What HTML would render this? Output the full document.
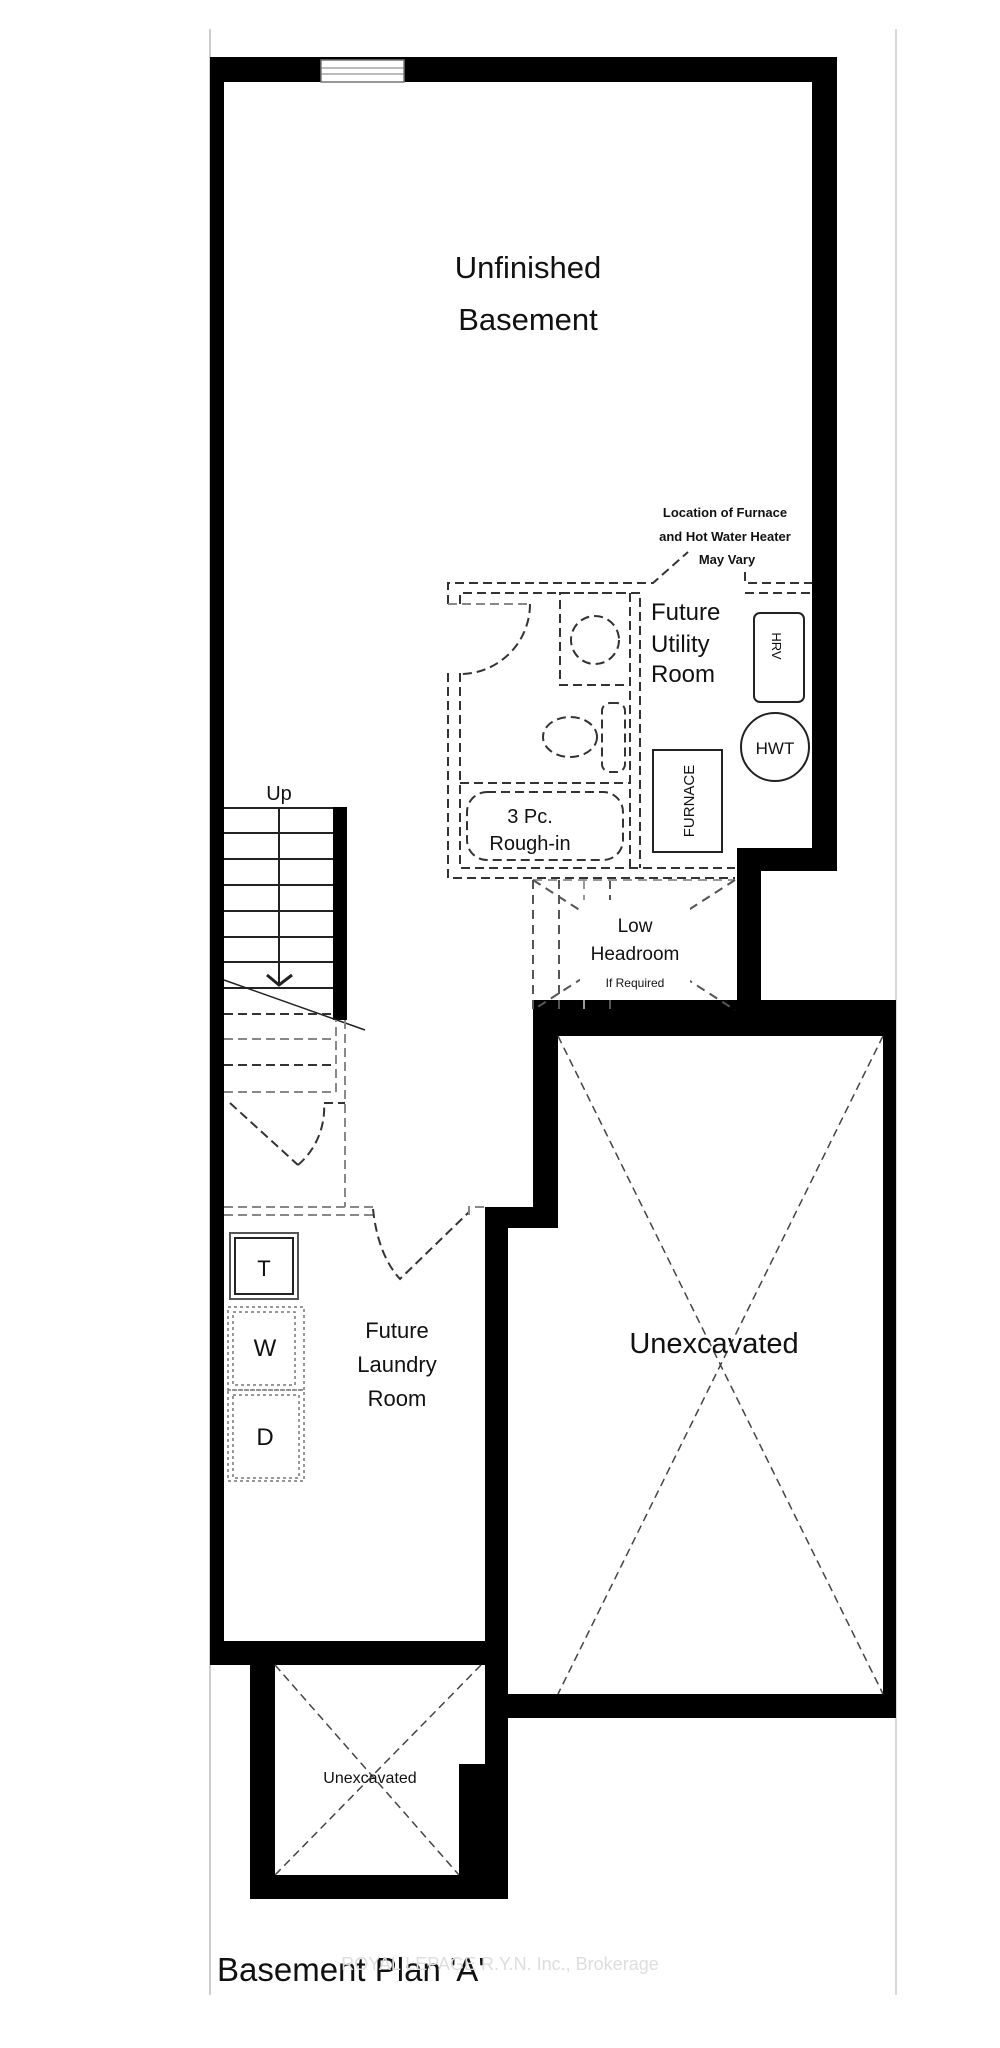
<!DOCTYPE html>
<html><head><meta charset="utf-8"><style>
html,body{margin:0;padding:0;background:#fff;}
svg{display:block;}
text{font-family:"Liberation Sans",sans-serif;fill:#111;}
</style></head><body>
<svg width="1000" height="2048" viewBox="0 0 1000 2048" xmlns="http://www.w3.org/2000/svg">
<rect width="1000" height="2048" fill="#fff"/>
<!-- thin borders -->
<line x1="210" y1="29" x2="210" y2="1995" stroke="#bbb" stroke-width="1.5"/>
<line x1="896" y1="29" x2="896" y2="1995" stroke="#ccc" stroke-width="1.5"/>
<!-- walls -->
<g fill="#000">
<rect x="210" y="57" width="627" height="25"/>
<rect x="210" y="57" width="14" height="1608"/>
<rect x="812" y="57" width="25" height="814"/>
<rect x="737" y="848" width="100" height="23"/>
<rect x="737" y="848" width="24" height="162"/>
<rect x="533" y="1000" width="363" height="36"/>
<rect x="533" y="1000" width="25" height="228"/>
<rect x="485" y="1207" width="73" height="21"/>
<rect x="485" y="1207" width="23" height="692"/>
<rect x="883" y="1000" width="13" height="718"/>
<rect x="485" y="1694" width="411" height="24"/>
<rect x="210" y="1641" width="298" height="24"/>
<rect x="250" y="1641" width="25" height="258"/>
<rect x="250" y="1875" width="258" height="24"/>
<rect x="459" y="1764" width="26" height="111"/>
<rect x="333" y="807" width="14" height="213"/>
</g>
<!-- window -->
<rect x="321" y="60" width="83" height="22" fill="#fff" stroke="#777" stroke-width="1.5"/>
<line x1="321" y1="68" x2="404" y2="68" stroke="#777"/>
<line x1="321" y1="74" x2="404" y2="74" stroke="#777"/>
<!-- labels -->
<text x="528" y="278" font-size="31" text-anchor="middle">Unfinished</text>
<text x="528" y="330" font-size="31" text-anchor="middle">Basement</text>
<g font-size="13" font-weight="bold" text-anchor="middle">
<text x="725" y="517">Location of Furnace</text>
<text x="725" y="541">and Hot Water Heater</text>
<text x="727" y="564">May Vary</text>
</g>
<!-- bath / utility dashed -->
<g fill="none" stroke="#333" stroke-width="2" stroke-dasharray="9,5">
<path d="M448 604 V583 H653 L688 552"/>
<path d="M745 572 V583 H812"/>
<path d="M460 604 V593 H640 V868"/>
<path d="M745 593 H812"/>
<path d="M630 593 V868"/>
<path d="M448 673 V878 H735"/>
<path d="M460 673 V868 H735"/>
<line x1="448" y1="604" x2="530" y2="604" stroke="#888"/>
<path d="M530 604 A70 70 0 0 1 460 674"/>
<rect x="560" y="593" width="70" height="92"/>
<circle cx="595" cy="640" r="24"/>
<ellipse cx="570" cy="737" rx="27" ry="20"/>
<rect x="602" y="703" width="23" height="69" rx="8"/>
<line x1="460" y1="783" x2="630" y2="783"/>
<rect x="467" y="792" width="156" height="68" rx="20"/>
</g>
<text x="530" y="823" font-size="20" text-anchor="middle">3 Pc.</text>
<text x="530" y="850" font-size="20" text-anchor="middle">Rough-in</text>
<g font-size="24"><text x="651" y="620">Future</text><text x="651" y="652">Utility</text><text x="651" y="682">Room</text></g>
<rect x="754" y="613" width="50" height="89" rx="6" fill="none" stroke="#222" stroke-width="2"/>
<text transform="translate(772,646) rotate(90)" font-size="13" text-anchor="middle">HRV</text>
<circle cx="775" cy="747" r="34" fill="none" stroke="#222" stroke-width="2"/>
<text x="775" y="754" font-size="17" text-anchor="middle">HWT</text>
<rect x="653" y="750" width="69" height="102" fill="none" stroke="#222" stroke-width="2"/>
<text transform="translate(694,801) rotate(-90)" font-size="15" text-anchor="middle">FURNACE</text>
<!-- low headroom -->
<g fill="none" stroke="#555" stroke-width="2" stroke-dasharray="9,6">
<path d="M533 880 V1010"/><path d="M559 880 V1010"/><path d="M584 880 V1010" stroke="#999"/><path d="M610 880 V1010"/>
<line x1="533" y1="880" x2="735" y2="880" stroke="#999"/>
<line x1="533" y1="880" x2="735" y2="1010"/>
<line x1="735" y1="880" x2="533" y2="1010"/>
</g>
<rect x="580" y="900" width="110" height="95" fill="#fff"/>
<text x="635" y="932" font-size="19" text-anchor="middle">Low</text>
<text x="635" y="960" font-size="19" text-anchor="middle">Headroom</text>
<text x="635" y="987" font-size="12" text-anchor="middle">If Required</text>
<!-- stairs -->
<g stroke="#222" stroke-width="2">
<line x1="224" y1="808" x2="333" y2="808"/><line x1="224" y1="833" x2="333" y2="833"/>
<line x1="224" y1="859" x2="333" y2="859"/><line x1="224" y1="885" x2="333" y2="885"/>
<line x1="224" y1="911" x2="333" y2="911"/><line x1="224" y1="937" x2="333" y2="937"/>
<line x1="224" y1="962" x2="333" y2="962"/><line x1="224" y1="988" x2="333" y2="988"/>
<line x1="279" y1="807" x2="279" y2="985"/>
<path d="M267 975 L279 985 L292 975" fill="none" stroke-width="3"/>
<line x1="224" y1="980" x2="365" y2="1030" stroke-width="1.5"/>
</g>
<text x="279" y="800" font-size="20" text-anchor="middle">Up</text>
<g fill="none" stroke="#333" stroke-width="2" stroke-dasharray="9,5">
<line x1="224" y1="1014" x2="333" y2="1014"/>
<line x1="224" y1="1039" x2="336" y2="1039" stroke="#888"/>
<line x1="224" y1="1065" x2="333" y2="1065"/>
<path d="M224 1092 H336 V1020" stroke="#888"/>
<line x1="345" y1="1020" x2="345" y2="1207" stroke="#888"/>
<path d="M230 1103 L298 1165"/>
<path d="M298 1165 A75 75 0 0 0 324 1103"/>
<path d="M324 1103 H345"/>
<path d="M224 1207 H373 M224 1215 H373" stroke="#888"/>
<path d="M373 1209 Q378 1255 400 1279 L469 1212"/>
<path d="M469 1215 V1207 H485" stroke="#888"/>
</g>
<!-- laundry -->
<rect x="230" y="1233" width="68" height="66" fill="none" stroke="#555" stroke-width="2"/>
<rect x="235" y="1238" width="58" height="56" fill="none" stroke="#222" stroke-width="2"/>
<text x="264" y="1276" font-size="22" text-anchor="middle">T</text>
<g fill="none" stroke="#777" stroke-width="1.5" stroke-dasharray="3,3">
<rect x="228" y="1307" width="76" height="83"/><rect x="233" y="1312" width="62" height="73"/>
<rect x="228" y="1390" width="76" height="91"/><rect x="233" y="1395" width="66" height="83"/>
</g>
<text x="265" y="1356" font-size="24" text-anchor="middle">W</text>
<text x="265" y="1445" font-size="24" text-anchor="middle">D</text>
<g font-size="22" text-anchor="middle"><text x="397" y="1338">Future</text><text x="397" y="1372">Laundry</text><text x="397" y="1406">Room</text></g>
<!-- unexcavated -->
<g stroke="#444" stroke-width="1.5" stroke-dasharray="8,5">
<line x1="558" y1="1036" x2="883" y2="1694"/><line x1="883" y1="1036" x2="558" y2="1694"/>
<line x1="275" y1="1665" x2="459" y2="1875"/><line x1="481" y1="1665" x2="275" y2="1875"/>
</g>
<text x="714" y="1353" font-size="29" text-anchor="middle">Unexcavated</text>
<text x="370" y="1783" font-size="16" text-anchor="middle">Unexcavated</text>
<text x="217" y="1981" font-size="33">Basement Plan 'A'</text>
<text x="500" y="1970" font-size="18" fill="#ddd" style="fill:#ddd" text-anchor="middle">ROYAL LEPAGE R.Y.N. Inc., Brokerage</text>
</svg>
</body></html>
